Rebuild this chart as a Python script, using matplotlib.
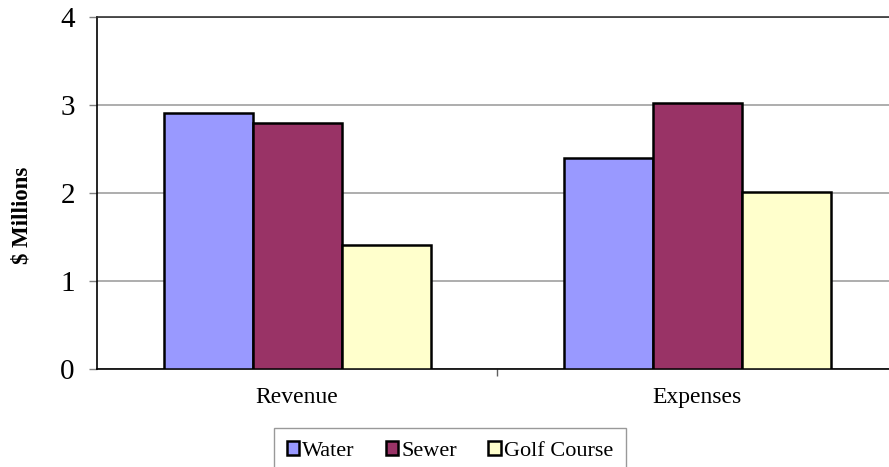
import matplotlib.pyplot as plt
import numpy as np

categories = ['Revenue', 'Expenses']
series = ['Water', 'Sewer', 'Golf Course']
water = [2.91, 2.40]
sewer = [2.80, 3.02]
golf = [1.41, 2.01]
colors = ['#9999FF', '#993366', '#FFFFCC']

plt.rcParams['font.family'] = ['Liberation Serif', 'DejaVu Serif']

fig = plt.figure(figsize=(8.89, 4.67), dpi=100)
ax = fig.add_axes([97 / 889, 98 / 467, 800 / 889, 352 / 467])

x = np.arange(len(categories))
w = 0.2225
for k, (name, vals) in enumerate(zip(series, [water, sewer, golf])):
    ax.bar(x + (k - 1) * w, vals, w, color=colors[k], edgecolor='black',
           linewidth=1.8, label=name, zorder=3)

ax.set_xlim(-0.5, 1.5)
ax.set_ylim(0, 4)
ax.set_yticks([0, 1, 2, 3, 4])
ax.yaxis.grid(True, color='#a0a0a0', linewidth=1.2, zorder=0)
ax.set_axisbelow(True)

ax.set_xticks(x)
ax.set_xticklabels(categories, fontsize=17)
ax.tick_params(axis='x', which='major', length=0, pad=13)
ax.set_xticks([0.5], minor=True)
ax.tick_params(axis='x', which='minor', length=5, color='#606060', width=1)
ax.tick_params(axis='y', length=6, color='#808080', width=1, labelsize=21, pad=10)

for s in ['left', 'bottom', 'top']:
    ax.spines[s].set_color('black')
    ax.spines[s].set_linewidth(1.2)
ax.spines['top'].set_color('#333333')
ax.spines['right'].set_visible(False)

fig.text(22 / 889, (467 - 215) / 467, '$ Millions', rotation=90, fontsize=16.5,
         fontweight='bold', ha='center', va='center')

leg = fig.legend(loc='upper center', bbox_to_anchor=(450 / 889, 39 / 467),
                 ncol=3, fontsize=16, frameon=True, fancybox=False,
                 edgecolor='#808080', handlelength=0.55, handleheight=0.55,
                 handletextpad=0.15, columnspacing=1.4, borderpad=0.6,
                 borderaxespad=0)
leg.get_frame().set_linewidth(1.0)
for h in leg.legend_handles:
    h.set_linewidth(1.8)

fig.savefig('out.png', dpi=100)
